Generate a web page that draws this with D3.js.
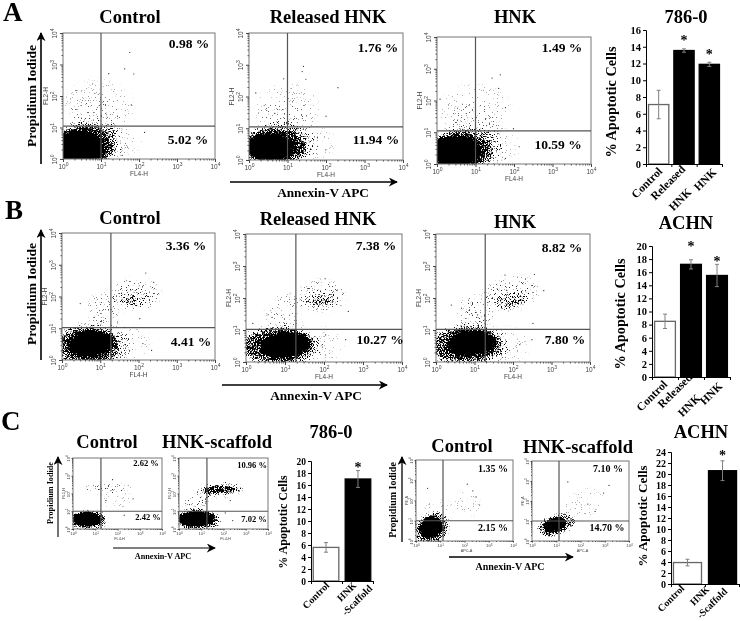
<!DOCTYPE html>
<html><head><meta charset="utf-8">
<script src="https://cdn.jsdelivr.net/npm/d3@7/dist/d3.min.js"></script>
<style>html,body{margin:0;padding:0;background:#fff}svg{display:block;opacity:.999}</style>
</head><body><svg id="c" width="740" height="621" xmlns="http://www.w3.org/2000/svg"></svg>
<script>
// ---------- DATA ----------
// density regions: [xLo, xHi, yLo, yHi, tiltDeg, density]
const cloudsA1=[[0.5,11,0.7,7.5,0,1],[0.6,22,0.6,11,0,.42],[0.8,40,0.8,16,0,.18],[1,70,5,320,0,.06],[1.5,36,6,90,0,.05],[1.5,120,1,14,0,.05]];
const cloudsA2=[[0.8,15,1,6.5,0,1],[0.7,30,0.7,10,0,.42],[0.8,60,0.8,14,0,.18],[1.5,70,6,250,0,.06],[2,36,6,80,0,.05],[10,180,1,12,0,.05]];
const cloudsA3=[[0.5,14,0.9,7,0,1],[0.6,27,0.7,10,0,.42],[0.7,50,0.7,14,0,.18],[1.2,85,6,320,0,.06],[2,40,6,90,0,.05],[10,140,1,12,0,.05]];
const cloudsB1=[[1.5,22,1.4,8,-8,1],[0.6,30,0.6,11,0,.4],[0.8,65,0.7,14,0,.15],[18,380,40,360,0,.12],[30,180,50,150,0,.12],[40,110,60,100,0,.2],[5,35,10,130,-40,.1],[20,200,1,12,0,.05]];
const cloudsB2=[[2.4,42,1.5,8,-8,1],[0.7,58,0.9,11,0,.4],[0.8,95,0.7,14,0,.15],[22,360,40,350,0,.12],[35,200,50,150,0,.12],[45,170,58,100,0,.3],[3,32,10,120,-45,.09],[40,300,1,12,0,.05]];
const cloudsB3=[[2,34,1.7,9,-6,1],[0.7,50,0.9,12,0,.4],[0.7,85,0.7,15,0,.15],[16,460,45,430,-10,.13],[30,280,50,170,-10,.12],[50,220,55,100,-10,.24],[4,28,9,120,-40,.13],[30,250,1,12,0,.05]];
const cloudsC1=[[0.9,19,1.5,8,0,1],[0.8,32,0.9,11,0,.38],[3,550,100,340,0,.13],[20,450,14,160,0,.05]];
const cloudsC2=[[0.9,38,1.4,9.5,0,1],[0.8,70,0.9,12,0,.38],[9,700,65,450,-4,.2],[12,340,105,270,-3,.5],[1.5,28,10,130,-35,.13]];
const cloudsC3=[[1.4,13,1.5,14,-35,1],[0.8,24,0.8,20,-35,.38],[30,450,15,320,0,.05],[2,32,12,120,0,.05]];
const cloudsC4=[[3,26,3.2,13,-18,1],[1.6,58,2,19,-18,.38],[15,1000,14,350,-30,.05]];
// lone events: [x, y]
const eventsA1=[[57,2400],[42,730],[16,510],[73,500],[63,52],[140,7],[50,2.4],[36,1.3],[2.2,150]];
const eventsA2=[[26,890],[204,190],[24,610],[30,350],[8,360],[100,24],[60,5],[1.5,130]];
const eventsA3=[[44,645],[27,510],[40,240],[136,3.5],[97,13],[60,1.5],[1.2,110],[60,60]];
const eventsB1=[[155,550],[3,60],[108,20],[130,3.3],[220,2],[250,280]];
const eventsB2=[[107,400],[420,38],[3.7,30],[1.5,16],[360,5],[110,7],[60,2]];
const eventsB3=[[62,520],[360,550],[630,170],[2.5,60],[330,16],[310,5],[150,3.5]];
const eventsC1=[[60,600],[30,40],[500,50],[200,6]];
const eventsC2=[[500,130],[200,40],[120,8],[260,3]];
const eventsC3=[[130,640],[220,300],[300,150],[420,60],[3,400]];
const eventsC4=[[1500,600],[900,250],[200,70],[400,30],[30,900]];
// quadrant gates [x, y]
const gateValues={A1:[10,11],A2:[10,11],A3:[10,11],B1:[19,10.5],B2:[19,10.5],B3:[19,10.5],C1:[18,10],C2:[18,10],C3:[13,10],C4:[13,10]};
// percentages [upper right, lower right]
const pctA=[["0.98 %","5.02 %"],["1.76 %","11.94 %"],["1.49 %","10.59 %"]];
const pctB=[["3.36 %","4.41 %"],["7.38 %","10.27 %"],["8.82 %","7.80 %"]];
const pctC=[["2.62 %","2.42 %"],["10.96 %","7.02 %"],["1.35 %","2.15 %"],["7.10 %","14.70 %"]];
const panelLetters=["A","B","C"];
const panelTitlesAB=["Control","Released HNK","HNK"];
const panelTitlesC=["Control","HNK-scaffold"];
const logTicks=[1,10,100,1000,10000];
// bars
const catsAB=[["Control"],["Released","HNK"],["HNK"]];
const catsC=[["Control"],["HNK","-Scaffold"]];
const values786A=[7.1,13.55,11.9], err786A=[1.7,0.2,0.25], ticks786A=d3.range(0,17,2);
const valuesACHNB=[8.5,17.2,15.5], errACHNB=[1.1,0.7,1.7], ticksACHNB=d3.range(0,21,2);
const values786C=[5.6,17.0], err786C=[0.8,1.4], ticks786C=d3.range(0,21,2);
const valuesACHNC=[3.9,20.6], errACHNC=[0.6,1.8], ticksACHNC=d3.range(0,25,2);

// ---------- DRAW ----------
const SERIF='"Liberation Serif","Times New Roman",serif', SANS='"Liberation Sans",Arial,sans-serif';
const svg=d3.select("#c");
const defs=svg.append("defs");
defs.append("marker").attr("id","ah").attr("viewBox","0 0 10 10").attr("refX",9).attr("refY",5)
 .attr("markerWidth",9).attr("markerHeight",9).attr("markerUnits","userSpaceOnUse").attr("orient","auto")
 .append("path").attr("d","M0,0 L10,5 L0,10 L3,5 Z").attr("fill","#000");
function speck(id,blur,seed){
 const f=defs.append("filter").attr("id",id).attr("filterUnits","userSpaceOnUse")
  .attr("x",0).attr("y",0).attr("width",740).attr("height",621).attr("color-interpolation-filters","sRGB");
 f.append("feGaussianBlur").attr("in","SourceAlpha").attr("stdDeviation",blur).attr("result","b");
 f.append("feTurbulence").attr("type","fractalNoise").attr("baseFrequency",1.25).attr("numOctaves",2).attr("seed",seed).attr("result","t");
 f.append("feColorMatrix").attr("in","t").attr("type","matrix").attr("values","0 0 0 0 0  0 0 0 0 0  0 0 0 0 0  2.2 0 0 0 -.6").attr("result","n");
 f.append("feComposite").attr("in","b").attr("in2","n").attr("operator","arithmetic")
  .attr("k1",0).attr("k2",1.5).attr("k3",1).attr("k4",-1).attr("result","s");
 const ct=f.append("feComponentTransfer").attr("in","s").attr("result","h");
 ct.append("feFuncA").attr("type","linear").attr("slope",4).attr("intercept",0);
 f.append("feGaussianBlur").attr("in","h").attr("stdDeviation",0.35);
}
speck("speck",2.6,3); speck("speckS",1.4,5);

function txt(x,y,s,size,opt={}){
 const t=svg.append("text").attr("x",x).attr("y",y).text(s).attr("font-family",opt.fam||SERIF)
  .attr("font-weight",opt.w||"bold").attr("font-size",size).attr("text-anchor",opt.a||"middle").attr("fill",opt.c||"#000");
 if(opt.rot!==undefined)t.attr("transform",`rotate(${opt.rot} ${x} ${y})`);
 return t;
}
function arrow(x1,y1,x2,y2,w){
 svg.append("line").attr("x1",x1).attr("y1",y1).attr("x2",x2).attr("y2",y2)
  .attr("stroke","#000").attr("stroke-width",w||1.6).attr("marker-end","url(#ah)");
}
function facs(L,clouds,events,gate,pct,idx){
 const x=d3.scaleLog().domain([1,10000]).range([L.x0,L.x1]);
 const y=d3.scaleLog().domain([1,10000]).range([L.y1,L.y0]);
 const cid="cp"+idx;
 defs.append("clipPath").attr("id",cid).append("rect").attr("x",L.x0).attr("y",L.y0).attr("width",L.x1-L.x0).attr("height",L.y1-L.y0);
 const g=svg.append("g").attr("clip-path",`url(#${cid})`);
 g.append("g").attr("filter",`url(#${L.small?"speckS":"speck"})`).selectAll("ellipse").data(clouds).join("ellipse")
  .attr("cx",d=>(x(d[0])+x(d[1]))/2).attr("cy",d=>(y(d[2])+y(d[3]))/2)
  .attr("rx",d=>(x(d[1])-x(d[0]))/2).attr("ry",d=>(y(d[2])-y(d[3]))/2)
  .attr("transform",d=>`rotate(${d[4]} ${(x(d[0])+x(d[1]))/2} ${(y(d[2])+y(d[3]))/2})`)
  .attr("fill","#000").attr("fill-opacity",d=>d[5]);
 g.selectAll("circle").data(events).join("circle").attr("cx",d=>x(d[0])).attr("cy",d=>y(d[1])).attr("r",.6).attr("fill","#222");
 svg.append("rect").attr("x",L.x0).attr("y",L.y0).attr("width",L.x1-L.x0).attr("height",L.y1-L.y0)
  .attr("fill","none").attr("stroke","#777").attr("stroke-width",1);
 svg.append("line").attr("x1",x(gate[0])).attr("x2",x(gate[0])).attr("y1",L.y0).attr("y2",L.y1).attr("stroke","#555").attr("stroke-width",1.2);
 svg.append("line").attr("x1",L.x0).attr("x2",L.x1).attr("y1",y(gate[1])).attr("y2",y(gate[1])).attr("stroke","#555").attr("stroke-width",1.2);
 const minors=logTicks.slice(0,4).flatMap(v=>d3.range(2,10).map(m=>v*m));
 const fs=L.small?4.2:6.5, exp=L.small?3:5;
 const ax=d3.axisBottom(x).tickValues(minors).tickSize(L.small?1:1.5).tickFormat("");
 const ay=d3.axisLeft(y).tickValues(minors).tickSize(L.small?1:1.5).tickFormat("");
 [svg.append("g").attr("transform",`translate(0,${L.y1})`).call(ax),svg.append("g").attr("transform",`translate(${L.x0},0)`).call(ay)]
  .forEach(s=>{s.select(".domain").remove();s.selectAll("line").attr("stroke","#555");});
 const sup=(sel,v)=>{sel.append("tspan").text("10");sel.append("tspan").attr("dy",L.small?-1.5:-3).attr("font-size",exp).text(Math.round(Math.log10(v)));};
 const bx=svg.append("g").attr("transform",`translate(0,${L.y1})`).call(d3.axisBottom(x).tickValues(logTicks).tickSize(L.small?1.5:3).tickFormat(""));
 bx.select(".domain").remove();bx.selectAll("line").attr("stroke","#444");
 bx.selectAll(".tick text").attr("y",L.small?6:10).attr("font-family",SANS).attr("font-size",fs).attr("fill","#444").attr("dy",0).each(function(v){sup(d3.select(this),v)});
 const by=svg.append("g").attr("transform",`translate(${L.x0},0)`).call(d3.axisLeft(y).tickValues(logTicks).tickSize(L.small?1.5:3).tickFormat(""));
 by.select(".domain").remove();by.selectAll("line").attr("stroke","#444");
 by.selectAll(".tick text").attr("x",0).attr("dy",0).attr("text-anchor","middle").attr("font-family",SANS).attr("font-size",fs).attr("fill","#444")
  .attr("transform",`rotate(-90) translate(0,${L.small?-3.5:-6})`).each(function(v){sup(d3.select(this),v)});
 const cx=(L.x0+L.x1)/2, cy=(L.y0+L.y1)/2;
 txt(cx+(L.small?2:0),L.y1+(L.small?11:17),L.xName,L.small?3.8:6.5,{fam:SANS,w:"normal",c:"#444"});
 txt(L.x0-(L.small?8:15),cy,L.yName,L.small?3.8:6.5,{fam:SANS,w:"normal",c:"#444",rot:-90});
 txt(L.p[0],L.p[1],pct[0],L.ps,{});
 txt(L.p[2],L.p[3],pct[1],L.ps,{});
}
const layoutsAB={
 A1:{x0:63,x1:215,y0:33,y1:159,xName:"FL4-H",yName:"FL2-H",p:[189,48,188,144],ps:13.5},
 A2:{x0:249,x1:403,y0:33,y1:160,xName:"FL4-H",yName:"FL2-H",p:[378,52,376,144],ps:13.5},
 A3:{x0:437,x1:591,y0:37,y1:164,xName:"FL4-H",yName:"FL2-H",p:[562,52,558,149],ps:13.5},
 B1:{x0:62,x1:215,y0:233,y1:360,xName:"FL4-H",yName:"FL2-H",p:[186,250,191,346],ps:13.5},
 B2:{x0:246,x1:402,y0:234,y1:362,xName:"FL4-H",yName:"FL2-H",p:[376,250,380,344],ps:13.5},
 B3:{x0:436,x1:590,y0:234,y1:362,xName:"FL4-H",yName:"FL2-H",p:[562,252,565,344],ps:13.5},
 C1:{small:1,x0:73,x1:162,y0:458,y1:529,xName:"FL4-H",yName:"FL2-H",p:[146,466,148,520],ps:8.5},
 C2:{small:1,x0:179,x1:268,y0:458,y1:529,xName:"FL4-H",yName:"FL2-H",p:[252,468,254,522],ps:8.5},
 C3:{small:1,x0:416,x1:513,y0:460,y1:541,xName:"APC-A",yName:"PE-A",p:[493,472,493,531],ps:10},
 C4:{small:1,x0:532,x1:629,y0:461,y1:541,xName:"APC-A",yName:"PE-A",p:[608,472,607,531],ps:10},
};
facs(layoutsAB.A1,cloudsA1,eventsA1,gateValues.A1,pctA[0],"A1");
facs(layoutsAB.A2,cloudsA2,eventsA2,gateValues.A2,pctA[1],"A2");
facs(layoutsAB.A3,cloudsA3,eventsA3,gateValues.A3,pctA[2],"A3");
facs(layoutsAB.B1,cloudsB1,eventsB1,gateValues.B1,pctB[0],"B1");
facs(layoutsAB.B2,cloudsB2,eventsB2,gateValues.B2,pctB[1],"B2");
facs(layoutsAB.B3,cloudsB3,eventsB3,gateValues.B3,pctB[2],"B3");
facs(layoutsAB.C1,cloudsC1,eventsC1,gateValues.C1,pctC[0],"C1");
facs(layoutsAB.C2,cloudsC2,eventsC2,gateValues.C2,pctC[1],"C2");
facs(layoutsAB.C3,cloudsC3,eventsC3,gateValues.C3,pctC[2],"C3");
facs(layoutsAB.C4,cloudsC4,eventsC4,gateValues.C4,pctC[3],"C4");

function bars(L,cats,vals,errs,ticks,stars){
 const y=d3.scaleLinear().domain([0,d3.max(ticks)]).range([L.y0,L.yTop]);
 const x=d3.scaleBand().domain(cats.map(c=>c.join(" "))).range([L.x0,L.x1]).paddingInner(L.pi).paddingOuter(L.po);
 const g=svg.append("g");
 const rows=cats.map((c,i)=>({k:c.join(" "),v:vals[i],e:errs[i],i}));
 g.selectAll("rect").data(rows).join("rect").attr("x",d=>x(d.k)).attr("width",x.bandwidth())
  .attr("y",d=>y(d.v)).attr("height",d=>y(0)-y(d.v))
  .attr("fill",d=>d.i===0?"#fff":"#000").attr("stroke",d=>d.i===0?"#666":"#000").attr("stroke-width",1.3);
 const cap=L.cap||2;
 const er=g.selectAll("g.e").data(rows).join("g").attr("class","e").attr("stroke","#808080").attr("stroke-width",1);
 er.append("line").attr("x1",d=>x(d.k)+x.bandwidth()/2).attr("x2",d=>x(d.k)+x.bandwidth()/2).attr("y1",d=>y(d.v+d.e)).attr("y2",d=>y(d.v-d.e));
 [1,-1].forEach(s=>er.append("line").attr("x1",d=>x(d.k)+x.bandwidth()/2-cap).attr("x2",d=>x(d.k)+x.bandwidth()/2+cap).attr("y1",d=>y(d.v+s*d.e)).attr("y2",d=>y(d.v+s*d.e)));
 const ya=svg.append("g").attr("transform",`translate(${L.x0},0)`).call(d3.axisLeft(y).tickValues(ticks).tickSize(3).tickFormat(d3.format("d")));
 ya.select(".domain").attr("stroke-width",1);
 ya.selectAll("text").attr("font-family",SERIF).attr("font-weight","bold").attr("font-size",L.fs).attr("fill","#000").attr("x",-5);
 const edges=d3.range(cats.length+1).map(i=>L.x0+(L.x1-L.x0)*i/cats.length);
 const xa=svg.append("g").attr("transform",`translate(0,${L.y0})`).call(d3.axisBottom(d3.scaleLinear().domain([L.x0,L.x1]).range([L.x0,L.x1])).tickValues(edges).tickSize(3).tickSizeOuter(0).tickFormat(""));
 xa.select(".domain").attr("stroke-width",1);
 L.cat.forEach(([px,py,s])=>txt(px,py,s,L.cs,{a:"end",rot:-45}));
 stars.forEach(([i,py])=>txt(x(rows[i].k)+x.bandwidth()/2,py,"*",L.ss||14));
}
bars({x0:646,x1:722,y0:164,yTop:30,pi:.2,po:.1,fs:10.5,cs:11.5,
 cat:[[663,172,"Control"],[686,170,"Released"],[692,193,"HNK"],[717,173,"HNK"]]},catsAB,values786A,err786A,ticks786A,[[1,45],[2,59]]);
bars({x0:652,x1:730,y0:377,yTop:246,pi:.2,po:.1,fs:10.5,cs:11.5,
 cat:[[668,385,"Control"],[693,378,"Released"],[701,399,"HNK"],[723,387,"HNK"]]},catsAB,valuesACHNB,errACHNB,ticksACHNB,[[1,251],[2,266]]);
bars({x0:311,x1:373,y0:581,yTop:461,pi:.2,po:.07,fs:9.5,cs:10,
 cat:[[330,586,"Control"],[357,586,"HNK"],[373,589,"-Scaffold"]]},catsC,values786C,err786C,ticks786C,[[1,472]]);
bars({x0:671,x1:739,y0:584,yTop:452,pi:.2,po:.07,fs:10,cs:10,
 cat:[[685,589,"Control"],[710,590,"HNK"],[728,592,"-Scaffold"]]},catsC,valuesACHNC,errACHNC,ticksACHNC,[[1,460]]);

txt(3,21,panelLetters[0],27,{a:"start"});txt(5,219,panelLetters[1],27,{a:"start"});txt(1,430,panelLetters[2],27,{a:"start"});
txt(130,23,panelTitlesAB[0],18.5);txt(328,23,panelTitlesAB[1],18.5);txt(515,23,panelTitlesAB[2],18.5);
txt(130,224,panelTitlesAB[0],18.5);txt(318,225,panelTitlesAB[1],18.5);txt(515,228,panelTitlesAB[2],18.5);
txt(107,448,panelTitlesC[0],18.5);txt(217,448,panelTitlesC[1],18.5);
txt(462,452,panelTitlesC[0],18.5);txt(578,453,panelTitlesC[1],18.5);
txt(686,23,"786-0",18.5);txt(686,229,"ACHN",18.5);txt(331,438,"786-0",18.5);txt(701,438,"ACHN",18.5);
txt(36,96,"Propidium Iodide",13.5,{rot:-90});txt(36,294,"Propidium Iodide",13.5,{rot:-90});
txt(53,493,"Propidium Iodide",8.2,{rot:-90});txt(396,500,"Propidium Iodide",10,{rot:-90});
txt(323,197,"Annexin-V APC",13.3);txt(316,400,"Annexin-V APC",13.3);txt(163,559,"Annexin-V APC",8.2);txt(510,570,"Annexin-V APC",10);
arrow(41,164,41,33);arrow(41,360,41,230);arrow(58,537,58,457,1.1);arrow(402,542,402,457,1.3);
arrow(230,182,397,182);arrow(222,385,387,385);arrow(113,548,215,548,1.1);arrow(449,557,573,557,1.3);
txt(616,102,"% Apoptotic Cells",14.3,{rot:-90});txt(625,314,"% Apoptotic Cells",14.3,{rot:-90});
txt(287,522,"% Apoptotic Cells",12,{rot:-90});txt(647,516,"% Apoptotic Cells",13,{rot:-90});
</script></body></html>
